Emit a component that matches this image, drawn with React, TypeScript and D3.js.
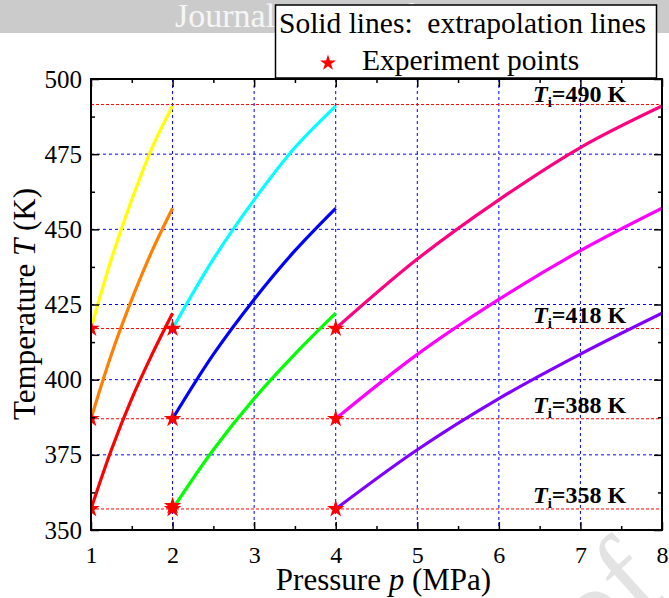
import { useEffect, useRef } from 'react';
import * as d3 from 'd3';

const width = 669;
const height = 598;
const margin = { top: 79, right: 7, bottom: 68, left: 91 };

// pressure points along the three extrapolation segments (MPa)
const pLow = [1, 1.25, 1.5, 1.75, 2];
const pMid = [2, 2.5, 3, 3.5, 4];
const pHigh = [4, 5, 6, 7, 8];

// temperatures (K), same shape on every segment
const tFrom358 = [357, 376.7, 393.7, 408.5, 422.1];
const tFrom388 = [387, 408.4, 426.7, 442.9, 457];
const tFrom418 = [417, 440.1, 459.8, 477.2, 491];

// experiment points
const expP = [1, 1, 1, 2, 2, 2, 2, 4, 4, 4];
const expT = [357, 387, 417, 357, 358, 387, 417, 357, 387, 417];

// initial temperature reference lines
const tiValues = [357, 387, 417, 491.5];
const tiLabels = ['358', '388', '418', '490'];

const xTicks = [1, 2, 3, 4, 5, 6, 7, 8];
const yTicks = [350, 375, 400, 425, 450, 475, 500];

const FONT = '"Liberation Serif", "Times New Roman", serif';

const App = () => {
  const svgRef = useRef<SVGSVGElement>(null);

  useEffect(() => {
    drawChart();
  }, []);

  const drawChart = () => {
    const svg = d3.select(svgRef.current);
    svg.selectAll('*').remove();

    const x0 = margin.left;
    const x1 = width - margin.right;
    const y0 = margin.top;
    const y1 = height - margin.bottom;

    const x = d3.scaleLinear().domain([1, 8]).range([x0, x1]);
    const y = d3.scaleLinear().domain([350, 500]).range([y1, y0]);

    // watermark stuff (mostly hidden behind the plot)
    svg.append('text')
      .attr('transform', 'translate(668,594) rotate(-42)')
      .attr('text-anchor', 'end')
      .attr('font-family', FONT)
      .attr('font-size', 120)
      .attr('fill', '#e3e3e3')
      .text('Journal Pre-proof');

    svg.append('rect')
      .attr('x', 0).attr('y', 0).attr('width', width).attr('height', 33)
      .attr('fill', '#cbcbcb');
    svg.append('text')
      .attr('x', 175).attr('y', 27)
      .attr('font-family', FONT)
      .attr('font-size', 34)
      .attr('fill', '#f6f6f6')
      .text('Journal Pre-proof');

    svg.append('rect')
      .attr('x', x0).attr('y', y0).attr('width', x1 - x0).attr('height', y1 - y0)
      .attr('fill', '#fff');

    svg.append('defs').append('clipPath').attr('id', 'plot-clip')
      .append('rect')
      .attr('x', x0).attr('y', y0).attr('width', x1 - x0).attr('height', y1 - y0);

    // blue grid
    const grid = svg.append('g')
      .attr('stroke', '#0000ff')
      .attr('stroke-width', 1)
      .attr('stroke-dasharray', '3,3');
    grid.selectAll('line.v')
      .data(xTicks.slice(1, -1))
      .join('line')
        .attr('x1', d => x(d)).attr('x2', d => x(d))
        .attr('y1', y0).attr('y2', y1);
    grid.selectAll('line.h')
      .data(yTicks.slice(1, -1))
      .join('line')
        .attr('x1', x0).attr('x2', x1)
        .attr('y1', d => y(d)).attr('y2', d => y(d));

    // red Ti lines
    svg.append('g')
      .attr('stroke', '#ff0000')
      .attr('stroke-width', 1)
      .attr('stroke-dasharray', '3,2')
      .selectAll('line')
      .data(tiValues)
      .join('line')
        .attr('x1', x0).attr('x2', x1)
        .attr('y1', d => y(d)).attr('y2', d => y(d));

    const curves = [
      { p: pLow, t: tFrom358, color: '#ff0000' },
      { p: pLow, t: tFrom388, color: '#ff8000' },
      { p: pLow, t: tFrom418, color: '#ffff00' },
      { p: pMid, t: tFrom358, color: '#00ff00' },
      { p: pMid, t: tFrom388, color: '#0000ff' },
      { p: pMid, t: tFrom418, color: '#00ffff' },
      { p: pHigh, t: tFrom358, color: '#8000ff' },
      { p: pHigh, t: tFrom388, color: '#ff00ff' },
      { p: pHigh, t: tFrom418, color: '#ff0080' },
    ];

    const line = d3.line<[number, number]>()
      .x(d => x(d[0]))
      .y(d => y(d[1]))
      .curve(d3.curveCatmullRom);

    const plot = svg.append('g').attr('clip-path', 'url(#plot-clip)');
    plot.selectAll('path.curve')
      .data(curves)
      .join('path')
        .attr('class', 'curve')
        .attr('d', c => line(c.p.map((p, i) => [p, c.t[i]] as [number, number])))
        .attr('fill', 'none')
        .attr('stroke', c => c.color)
        .attr('stroke-width', 3.2);

    const star = d3.symbol().type(d3.symbolStar).size(95);
    plot.selectAll('path.star')
      .data(expP.map((p, i) => [p, expT[i]]))
      .join('path')
        .attr('class', 'star')
        .attr('d', star)
        .attr('transform', d => `translate(${x(d[0])},${y(d[1])})`)
        .attr('fill', '#ff0000');

    // axes, ticks pointing inward on all four sides
    const minorX = d3.range(1.5, 8, 1);
    const minorY = d3.range(362.5, 500, 25);

    const styleAxis = (g: any) => {
      g.attr('font-family', FONT);
      g.select('.domain').remove();
      g.selectAll('line').attr('stroke', '#000').attr('stroke-width', 1.5);
      g.selectAll('text').attr('font-family', FONT).attr('fill', '#000');
    };

    svg.append('g')
      .attr('transform', `translate(0,${y1})`)
      .call(d3.axisBottom(x).tickValues(xTicks).tickSize(-8).tickSizeOuter(0).tickPadding(16).tickFormat(d3.format('d')))
      .call(styleAxis)
      .selectAll('text').attr('font-size', 24);
    svg.append('g')
      .attr('transform', `translate(0,${y1})`)
      .call(d3.axisBottom(x).tickValues(minorX).tickSize(-4).tickSizeOuter(0).tickFormat(() => ''))
      .call(styleAxis);
    svg.append('g')
      .attr('transform', `translate(0,${y0})`)
      .call(d3.axisTop(x).tickValues(xTicks).tickSize(-8).tickSizeOuter(0).tickFormat(() => ''))
      .call(styleAxis);
    svg.append('g')
      .attr('transform', `translate(0,${y0})`)
      .call(d3.axisTop(x).tickValues(minorX).tickSize(-4).tickSizeOuter(0).tickFormat(() => ''))
      .call(styleAxis);

    svg.append('g')
      .attr('transform', `translate(${x0},0)`)
      .call(d3.axisLeft(y).tickValues(yTicks).tickSize(-8).tickSizeOuter(0).tickPadding(9))
      .call(styleAxis)
      .selectAll('text').attr('font-size', 25);
    svg.append('g')
      .attr('transform', `translate(${x0},0)`)
      .call(d3.axisLeft(y).tickValues(minorY).tickSize(-4).tickSizeOuter(0).tickFormat(() => ''))
      .call(styleAxis);
    svg.append('g')
      .attr('transform', `translate(${x1},0)`)
      .call(d3.axisRight(y).tickValues(yTicks).tickSize(-8).tickSizeOuter(0).tickFormat(() => ''))
      .call(styleAxis);
    svg.append('g')
      .attr('transform', `translate(${x1},0)`)
      .call(d3.axisRight(y).tickValues(minorY).tickSize(-4).tickSizeOuter(0).tickFormat(() => ''))
      .call(styleAxis);

    svg.append('rect')
      .attr('x', x0).attr('y', y0).attr('width', x1 - x0).attr('height', y1 - y0)
      .attr('fill', 'none')
      .attr('stroke', '#000')
      .attr('stroke-width', 2);

    // Ti labels
    tiValues.forEach((v, i) => {
      const t = svg.append('text')
        .attr('x', 533)
        .attr('y', y(v) - (i === 3 ? 3 : 6))
        .attr('font-family', FONT)
        .attr('font-weight', 'bold')
        .attr('font-size', 24)
        .attr('fill', '#000');
      t.append('tspan').attr('font-style', 'italic').text('T');
      t.append('tspan').attr('font-size', 15).attr('dy', 5).text('i');
      t.append('tspan').attr('dy', -5).text(`=${tiLabels[i]} K`);
    });

    // axis titles
    const xt = svg.append('text')
      .attr('x', (x0 + x1) / 2 + 7)
      .attr('y', 590)
      .attr('text-anchor', 'middle')
      .attr('font-family', FONT)
      .attr('font-size', 31)
      .attr('fill', '#000');
    xt.append('tspan').text('Pressure ');
    xt.append('tspan').attr('font-style', 'italic').text('p');
    xt.append('tspan').text(' (MPa)');

    const yt = svg.append('text')
      .attr('transform', 'translate(35,304) rotate(-90)')
      .attr('text-anchor', 'middle')
      .attr('font-family', FONT)
      .attr('font-size', 31)
      .attr('fill', '#000');
    yt.append('tspan').text('Temperature ');
    yt.append('tspan').attr('font-style', 'italic').text('T');
    yt.append('tspan').text(' (K)');

    // legend
    svg.append('rect')
      .attr('x', 275.5).attr('y', 5).attr('width', 381).attr('height', 73)
      .attr('fill', '#fff')
      .attr('stroke', '#000')
      .attr('stroke-width', 1.5);
    svg.append('text')
      .attr('x', 279).attr('y', 33)
      .attr('font-family', FONT)
      .attr('font-size', 29.5)
      .attr('fill', '#000')
      .style('white-space', 'pre')
      .text('Solid lines:  extrapolation lines');
    svg.append('path')
      .attr('d', d3.symbol().type(d3.symbolStar).size(80)())
      .attr('transform', 'translate(328,63)')
      .attr('fill', '#ff0000');
    svg.append('text')
      .attr('x', 362).attr('y', 70)
      .attr('font-family', FONT)
      .attr('font-size', 29.5)
      .attr('fill', '#000')
      .text('Experiment points');
  };

  return (
    <svg
      ref={svgRef}
      width={width}
      height={height}
      style={{ position: 'absolute', left: 0, top: 0, background: '#fff' }}
    />
  );
};

export default App;
